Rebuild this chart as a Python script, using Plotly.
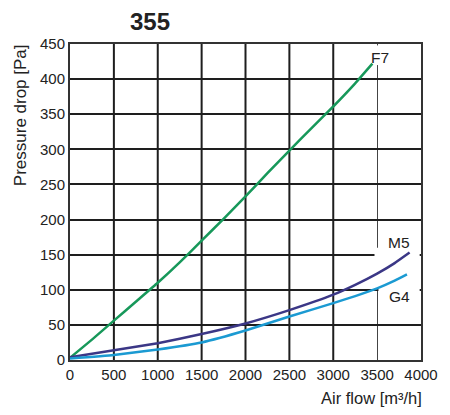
import plotly.graph_objects as go

# ---- data ----
flow_f7 = [0, 250, 500, 750, 1000, 1250, 1500, 1750, 2000, 2250, 2500, 2750, 3000, 3250, 3446]
dp_f7 = [3, 29, 56, 83, 110, 139, 170, 201, 233, 266, 298, 330, 361, 394, 422]

flow_m5 = [0, 500, 1000, 1500, 2000, 2500, 3000, 3250, 3500, 3700, 3870]
dp_m5 = [4, 14, 24, 37, 52, 71, 93, 107, 123, 138, 153]

flow_g4 = [0, 500, 1000, 1500, 2000, 2500, 3000, 3250, 3500, 3700, 3840]
dp_g4 = [2, 7, 15, 25, 42, 62, 81, 91, 102, 113, 122]

x_ticks = [0, 500, 1000, 1500, 2000, 2500, 3000, 3500, 4000]
y_ticks = [0, 50, 100, 150, 200, 250, 300, 350, 400, 450]
thick_x_grid = [500, 1000, 1500, 2000, 2500, 3000]

series = [
    ("F7", flow_f7, dp_f7, "#17985a"),
    ("M5", flow_m5, dp_m5, "#3b3786"),
    ("G4", flow_g4, dp_g4, "#1b9ad2"),
]

fig = go.Figure()
for name, xs, ys, col in series:
    fig.add_trace(go.Scatter(x=xs, y=ys, mode="lines", name=name,
                             line=dict(color=col, width=2.5, shape="spline", smoothing=0.4),
                             showlegend=False, hoverinfo="skip"))

shapes = []
for xv in thick_x_grid:
    shapes.append(dict(type="line", xref="x", yref="y", x0=xv, x1=xv, y0=0, y1=450,
                       line=dict(color="#1e1e1e", width=2), layer="between"))
# white-outs behind labels
shapes.append(dict(type="rect", xref="x", yref="y", x0=3470, x1=3985, y0=104, y1=160,
                   fillcolor="white", line=dict(width=0), layer="between"))
shapes.append(dict(type="rect", xref="x", yref="y", x0=3515, x1=3985, y0=80, y1=104,
                   fillcolor="white", line=dict(width=0), layer="between"))
shapes.append(dict(type="rect", xref="x", yref="y", x0=3470, x1=3530, y0=420, y1=448,
                   fillcolor="white", line=dict(width=0), layer="between"))

font_main = "Liberation Sans, Arial, sans-serif"

# page pixel positions (reference) -> paper coords; plot area spans x 70..426, y 44..360
def px(x):
    return (x - 70) / 356

def py(y):
    return (360 - y) / 316

def label(text, x, y, size, angle=0, xanchor="center"):
    return dict(text=text, xref="paper", yref="paper", x=px(x), y=py(y),
                xanchor=xanchor, yanchor="middle", showarrow=False, textangle=angle,
                font=dict(size=size, color="#222", family=font_main))

annotations = [
    label("<b>355</b>", 151, 21, 24),
    label("Pressure drop [Pa]", 20.5, 115, 17, angle=-90),
    label("Air flow [m³/h]", 429, 398, 16.5, xanchor="right"),
    label("F7", 384, 57, 15.5),
    label("M5", 404, 242, 15.5),
    label("G4", 404, 296, 15.5),
]

# the page body has an 8px margin, so the figure is 8px smaller and shifted
fig.update_layout(
    width=442, height=407,
    margin=dict(l=62, r=24, t=36, b=55, pad=0),
    paper_bgcolor="white", plot_bgcolor="white",
    font=dict(family=font_main, size=15, color="#222"),
    shapes=shapes, annotations=annotations,
    xaxis=dict(range=[0, 4000], tickvals=x_ticks, ticktext=[str(v) for v in x_ticks],
               showgrid=True, gridcolor="#444", gridwidth=1,
               showline=True, linecolor="#333", linewidth=2, mirror=True,
               zeroline=False, ticks="", fixedrange=True,
               tickfont=dict(size=15, color="#222")),
    yaxis=dict(range=[0, 450], tickvals=y_ticks, ticktext=[str(v) for v in y_ticks],
               showgrid=True, gridcolor="#1e1e1e", gridwidth=2,
               showline=True, linecolor="#333", linewidth=2, mirror=True,
               zeroline=False, ticks="", fixedrange=True,
               tickfont=dict(size=15, color="#222")),
)

fig.write_html("out.html")
